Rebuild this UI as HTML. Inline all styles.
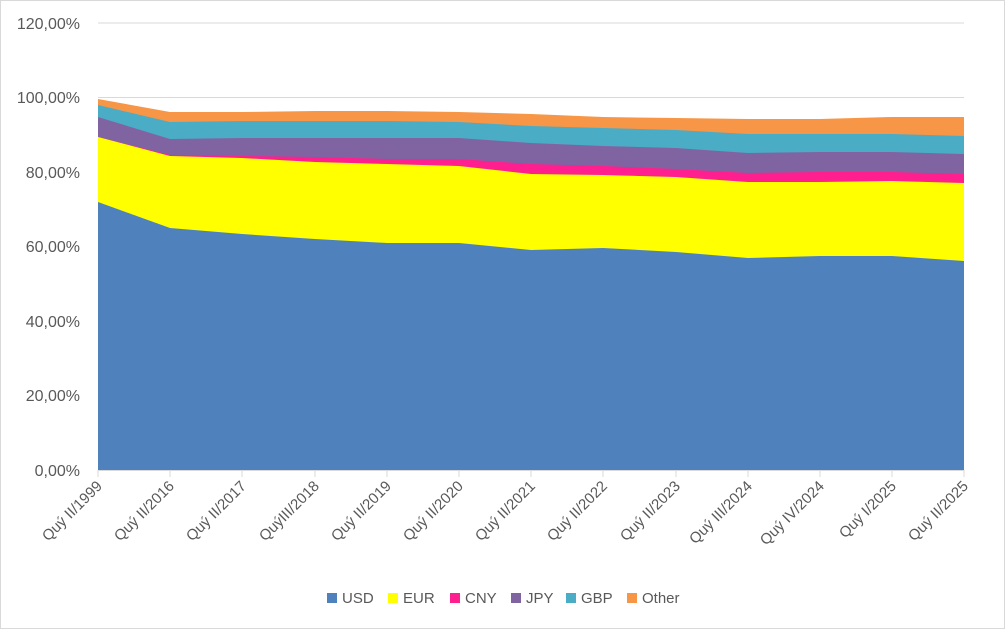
<!DOCTYPE html>
<html><head><meta charset="utf-8"><style>
html,body{margin:0;padding:0;background:#fff}
svg{display:block}
text{font-family:"Liberation Sans",sans-serif;fill:#595959}
</style></head><body>
<svg width="1005" height="629" viewBox="0 0 1005 629">
<rect x="0.5" y="0.5" width="1004" height="628" fill="#fff" stroke="#d9d9d9"/>
<g stroke="#d9d9d9" stroke-width="1">
<line x1="98" y1="23" x2="964" y2="23"/>
<line x1="98" y1="97.5" x2="964" y2="97.5"/>
<line x1="98" y1="172" x2="964" y2="172"/>
<line x1="98" y1="246.5" x2="964" y2="246.5"/>
<line x1="98" y1="321" x2="964" y2="321"/>
<line x1="98" y1="395.5" x2="964" y2="395.5"/>
</g>
<g font-size="16" text-anchor="end">
<text x="80" y="29">120,00%</text>
<text x="80" y="103">100,00%</text>
<text x="80" y="178">80,00%</text>
<text x="80" y="252">60,00%</text>
<text x="80" y="327">40,00%</text>
<text x="80" y="401">20,00%</text>
<text x="80" y="476">0,00%</text>
</g>
<polygon fill="#f79646" points="98,99 170,112 242,112 315,111 387,111 459,112 531,114 603,117 676,118 748,119 820,119 892,117 964,117 964,470 98,470"/>
<polygon fill="#4bacc6" points="98,105 170,122 242,121 315,121 387,121 459,122 531,126 603,128 676,130 748,134 820,134 892,134 964,136 964,470 98,470"/>
<polygon fill="#8064a2" points="98,117 170,139 242,138 315,138 387,138 459,138 531,143 603,146 676,148 748,153 820,152 892,152 964,154 964,470 98,470"/>
<polygon fill="#ff1f8f" points="98,137 170,155 242,156 315,157 387,159 459,159 531,164 603,166 676,169 748,173 820,172 892,172 964,174 964,470 98,470"/>
<polygon fill="#ffff00" points="98,137 170,156 242,158 315,162 387,164 459,166 531,174 603,175 676,177 748,182 820,182 892,181 964,183 964,470 98,470"/>
<polygon fill="#4f81bd" points="98,202 170,228 242,234 315,239 387,243 459,243 531,250 603,248 676,252 748,258 820,256 892,256 964,261 964,470 98,470"/>
<g stroke="#d9d9d9">
<line x1="98" y1="470.5" x2="964" y2="470.5"/>
<line x1="98" y1="470" x2="98" y2="477"/><line x1="170" y1="470" x2="170" y2="477"/><line x1="242" y1="470" x2="242" y2="477"/><line x1="315" y1="470" x2="315" y2="477"/><line x1="387" y1="470" x2="387" y2="477"/><line x1="459" y1="470" x2="459" y2="477"/><line x1="531" y1="470" x2="531" y2="477"/><line x1="603" y1="470" x2="603" y2="477"/><line x1="676" y1="470" x2="676" y2="477"/><line x1="748" y1="470" x2="748" y2="477"/><line x1="820" y1="470" x2="820" y2="477"/><line x1="892" y1="470" x2="892" y2="477"/><line x1="964" y1="470" x2="964" y2="477"/>
</g>
<g font-size="15" text-anchor="end">
<text transform="translate(103,487) rotate(-45)">Quý II/1999</text>
<text transform="translate(175,487) rotate(-45)">Quý II/2016</text>
<text transform="translate(247,487) rotate(-45)">Quý II/2017</text>
<text transform="translate(320,487) rotate(-45)">QuýIII/2018</text>
<text transform="translate(392,487) rotate(-45)">Quý II/2019</text>
<text transform="translate(464,487) rotate(-45)">Quý II/2020</text>
<text transform="translate(536,487) rotate(-45)">Quý II/2021</text>
<text transform="translate(608,487) rotate(-45)">Quý II/2022</text>
<text transform="translate(681,487) rotate(-45)">Quý II/2023</text>
<text transform="translate(753,487) rotate(-45)">Quý III/2024</text>
<text transform="translate(825,487) rotate(-45)">Quý IV/2024</text>
<text transform="translate(897,487) rotate(-45)">Quý I/2025</text>
<text transform="translate(969,487) rotate(-45)">Quý II/2025</text>
</g>
<g font-size="15">
<rect x="327" y="593" width="10" height="10" fill="#4f81bd"/><text x="342" y="603">USD</text>
<rect x="388" y="593" width="10" height="10" fill="#ffff00"/><text x="403" y="603">EUR</text>
<rect x="450" y="593" width="10" height="10" fill="#ff1f8f"/><text x="465" y="603">CNY</text>
<rect x="511" y="593" width="10" height="10" fill="#8064a2"/><text x="526" y="603">JPY</text>
<rect x="566" y="593" width="10" height="10" fill="#4bacc6"/><text x="581" y="603">GBP</text>
<rect x="627" y="593" width="10" height="10" fill="#f79646"/><text x="642" y="603">Other</text>
</g>
</svg>
</body></html>
